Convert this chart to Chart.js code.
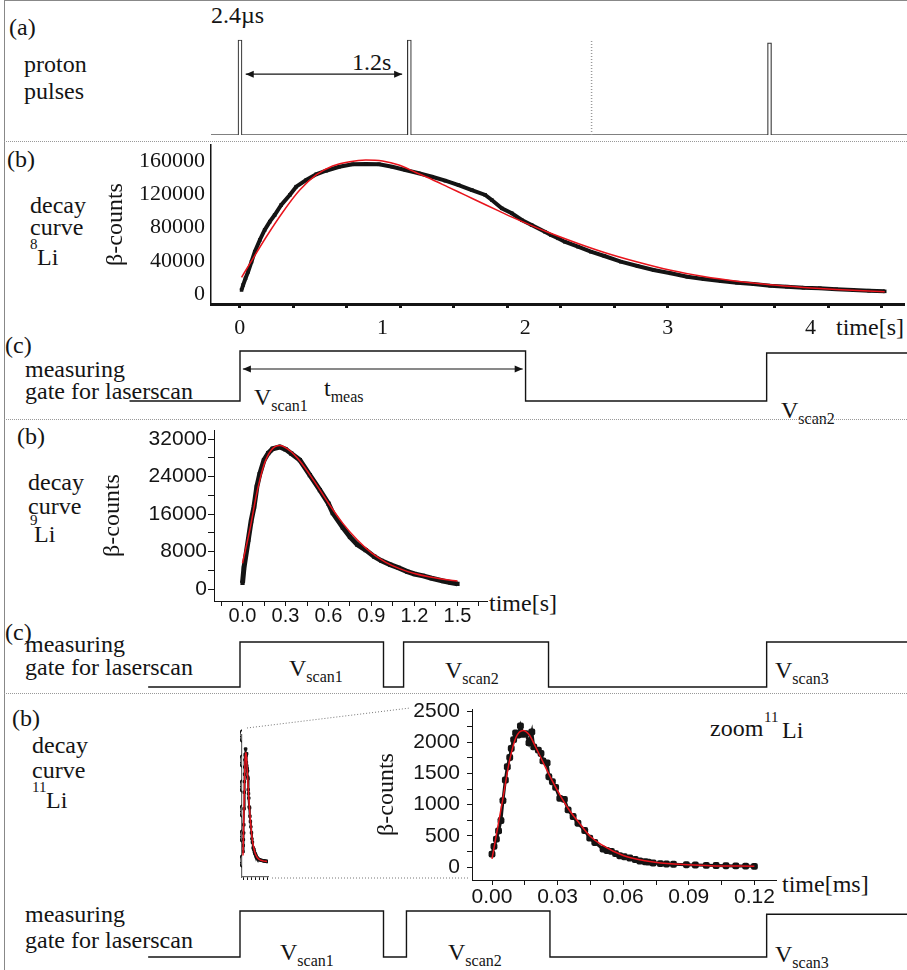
<!DOCTYPE html>
<html>
<head>
<meta charset="utf-8">
<title>Li decay curves and measuring gates</title>
<script src="https://cdn.jsdelivr.net/npm/chart.js@4.4.1/dist/chart.umd.min.js"></script>
<style>
  body { margin: 0; background: #fff; }
  #fig { position: relative; width: 907px; height: 970px; overflow: hidden; background: #fff;
         font-family: 'Liberation Serif', 'Times New Roman', serif; color: #141414; }
  #fig canvas, #fig svg { position: absolute; }
  .t { position: absolute; font-size: 24px; line-height: 1; white-space: nowrap; }
  .t sub { font-size: 16px; vertical-align: -6px; line-height: 0; }
  .iso { font-size: 15px; }
  .sep { position: absolute; left: 4px; width: 903px; height: 0; border-top: 1px dotted #999; }
  #inset { position: absolute; left: 240px; top: 700px; width: 60px; height: 200px; overflow: hidden; }
</style>
</head>
<body>
<div id="fig">
  <div style="position:absolute;left:4px;top:0;width:0;height:970px;border-left:1.5px solid #888"></div>
  <div style="position:absolute;left:4px;top:0;width:903px;height:0;border-top:1.5px solid #888"></div>

  <!-- (a) proton pulses -->
  <div class="t" style="left:9px;top:15px">(a)</div>
  <div class="t" style="left:211px;top:3px">2.4µs</div>
  <div class="t" style="left:24px;top:52px">proton</div>
  <div class="t" style="left:24px;top:79px">pulses</div>
  <div class="t" style="left:352px;top:50px">1.2s</div>
  <div class="sep" style="top:141px"></div>

  <!-- (b) 8Li -->
  <div class="t" style="left:7px;top:147px">(b)</div>
  <div class="t" style="left:30px;top:193px">decay</div>
  <div class="t" style="left:30px;top:215px">curve</div>
  <div class="t iso" style="left:30px;top:237px">8</div>
  <div class="t" style="left:37px;top:245px">Li</div>
  <div class="t" style="left:836px;top:315px">time[s]</div>

  <!-- (c) gate for 8Li -->
  <div class="t" style="left:5px;top:333px">(c)</div>
  <div class="t" style="left:25px;top:357px">measuring</div>
  <div class="t" style="left:25px;top:379px">gate for laserscan</div>
  <div class="t" style="left:254px;top:385px">V<sub>scan1</sub></div>
  <div class="t" style="left:324px;top:376px">t<sub>meas</sub></div>
  <div class="t" style="left:781px;top:398px">V<sub>scan2</sub></div>
  <div class="sep" style="top:419px"></div>

  <!-- (b) 9Li -->
  <div class="t" style="left:17px;top:424px">(b)</div>
  <div class="t" style="left:28px;top:470px">decay</div>
  <div class="t" style="left:28px;top:494px">curve</div>
  <div class="t iso" style="left:30px;top:513px">9</div>
  <div class="t" style="left:34px;top:522px">Li</div>
  <div class="t" style="left:489px;top:591px">time[s]</div>

  <!-- (c) gate for 9Li -->
  <div class="t" style="left:5px;top:620px">(c)</div>
  <div class="t" style="left:25px;top:632px">measuring</div>
  <div class="t" style="left:25px;top:655px">gate for laserscan</div>
  <div class="t" style="left:289px;top:656px">V<sub>scan1</sub></div>
  <div class="t" style="left:445px;top:658px">V<sub>scan2</sub></div>
  <div class="t" style="left:775px;top:658px">V<sub>scan3</sub></div>
  <div class="sep" style="top:693px"></div>

  <!-- (b) 11Li -->
  <div class="t" style="left:12px;top:706px">(b)</div>
  <div class="t" style="left:32px;top:733px">decay</div>
  <div class="t" style="left:32px;top:758px">curve</div>
  <div class="t iso" style="left:32px;top:780px">11</div>
  <div class="t" style="left:46px;top:788px">Li</div>
  <div class="t" style="left:710px;top:716px">zoom</div>
  <div class="t iso" style="left:764px;top:710px">11</div>
  <div class="t" style="left:782px;top:718px">Li</div>
  <div class="t" style="left:782px;top:872px">time[ms]</div>

  <!-- (c) gate for 11Li -->
  <div class="t" style="left:25px;top:902px">measuring</div>
  <div class="t" style="left:25px;top:928px">gate for laserscan</div>
  <div class="t" style="left:280px;top:940px">V<sub>scan1</sub></div>
  <div class="t" style="left:448px;top:940px">V<sub>scan2</sub></div>
  <div class="t" style="left:775px;top:942px">V<sub>scan3</sub></div>

  <svg width="907" height="970" style="left:0;top:0">
    <line x1="247" y1="728" x2="410" y2="708" stroke="#777" stroke-width="1" stroke-dasharray="1 2"/>
    <line x1="272" y1="878" x2="470" y2="878" stroke="#777" stroke-width="1" stroke-dasharray="1 2"/>
  </svg>
  <div id="inset"></div>
</div>

<script>
// ---------- data ----------
// (a) proton pulses [s] and the skipped one
const pulseTimes = [0, 1.18, 3.69];
const pulseHeights = [1, 1, 0.97];
const skippedPulse = [2.45];
const pulseGap = [0.04, 1.13];

// (b) 8Li decay curve
const li8T = [0.012, 0.023, 0.04, 0.058, 0.082, 0.105, 0.14, 0.174, 0.21, 0.244, 0.29, 0.35, 0.395, 0.465,
  0.535, 0.604, 0.697, 0.79, 0.883, 0.976, 1.068, 1.16, 1.254, 1.347, 1.44, 1.533, 1.626, 1.72, 1.766,
  1.836, 1.906, 1.976, 2.045, 2.138, 2.18, 2.23, 2.277, 2.37, 2.46, 2.555, 2.67, 2.787, 2.9, 3.02, 3.136,
  3.25, 3.37, 3.484, 3.6, 3.717, 3.833, 3.95, 4.065, 4.18, 4.3, 4.41, 4.52];
const li8N = [4800, 10800, 18900, 26800, 38900, 50900, 65000, 77000, 87000, 95000, 107100, 119100, 129100,
  137100, 144000, 148300, 153100, 156000, 156400, 156000, 153100, 149200, 145200, 141100, 136300, 131100,
  125100, 119100, 113100, 103100, 97100, 89000, 83000, 74900, 71000, 67000, 62900, 56900, 50900, 45700,
  38900, 33700, 28900, 24900, 20800, 18000, 15600, 13600, 12000, 10000, 8800, 7600, 6900, 5700, 4800, 4000, 3200];
const li8FitT = [0.012, 0.07, 0.186, 0.303, 0.42, 0.535, 0.65, 0.77, 0.883, 1.0, 1.115, 1.23, 1.347, 1.46,
  1.58, 1.696, 1.81, 1.928, 2.045, 2.16, 2.37, 2.555, 2.787, 3.02, 3.25, 3.484, 3.717, 3.95, 4.18, 4.52];
const li8FitN = [20100, 36500, 68900, 99000, 125100, 143200, 154000, 159200, 161200, 160000, 155200, 146500,
  137800, 128600, 118900, 109500, 100300, 91000, 82300, 74300, 60800, 50000, 38500, 28500, 21000, 15300,
  11000, 7900, 5500, 2800];
const li8XMinor = [0, 0.375, 0.75, 1.125, 1.5, 1.875, 2.25, 2.625, 3, 3.375, 3.75, 4.125, 4.5];
const li8XLabels = [0, 1, 2, 3, 4];
const li8YLabels = [0, 40000, 80000, 120000, 160000];

// (c) gate for 8Li: edges [s] and levels
const gate8Edges = [-0.77, 0, 1.99, 3.67, 4.65];
const gate8Levels = [0, 1, 0, 0.96, 0.96];
const tMeas = [0.02, 1.97];

// (b) 9Li decay curve
const li9T = [0.0, 0.01, 0.04, 0.06, 0.08, 0.10, 0.12, 0.15, 0.18, 0.21, 0.26, 0.30, 0.34, 0.40, 0.47, 0.54,
  0.60, 0.63, 0.70, 0.75, 0.80, 0.86, 0.92, 0.97, 1.03, 1.09, 1.15, 1.20, 1.26, 1.32, 1.40, 1.45, 1.50];
const li9N = [1300, 4500, 10500, 14500, 17500, 21800, 24500, 27500, 29000, 29900, 30300, 29800, 28900, 27500,
  24300, 21100, 18200, 16200, 13100, 11100, 9500, 8300, 6900, 6000, 5200, 4500, 3700, 3200, 2800, 2300,
  1700, 1400, 1100];
const li9FitT = [0.0, 0.05, 0.1, 0.15, 0.2, 0.26, 0.33, 0.4, 0.5, 0.6, 0.7, 0.8, 0.9, 1.0, 1.1, 1.2, 1.3, 1.4, 1.5];
const li9FitN = [5500, 12500, 20500, 26500, 29600, 30600, 29500, 27300, 23000, 18300, 14000, 10500, 7700,
  5700, 4300, 3300, 2600, 2100, 1700];
const li9XTicks = [-0.15, 0, 0.15, 0.3, 0.45, 0.6, 0.75, 0.9, 1.05, 1.2, 1.35, 1.5, 1.65];
const li9XLabels = [0, 0.3, 0.6, 0.9, 1.2, 1.5];
const li9YTicks = [0, 4000, 8000, 12000, 16000, 20000, 24000, 28000, 32000];
const li9YLabels = [0, 8000, 16000, 24000, 32000];

// (c) gate for 9Li
const gate9Edges = [-0.64, 0, 1.0, 1.14, 2.15, 3.67, 4.65];
const gate9Levels = [0, 1, 0, 1, 0, 1, 1];

// (b) 11Li decay curve [ms]
const li11T = [0, 0.0009, 0.002, 0.003, 0.0041, 0.005, 0.0061, 0.007, 0.0081, 0.0088, 0.0099, 0.0108, 0.012,
  0.013, 0.0142, 0.0154, 0.0169, 0.0182, 0.0191, 0.0212, 0.0224, 0.0233, 0.0252, 0.026, 0.0276, 0.0291,
  0.031, 0.0331, 0.0348, 0.0371, 0.0393, 0.0424, 0.0447, 0.047, 0.0508, 0.0525, 0.0546, 0.0565, 0.0584,
  0.0605, 0.063, 0.0655, 0.0676, 0.07, 0.0715, 0.0737, 0.077, 0.0798, 0.083, 0.0889, 0.093, 0.098,
  0.1025, 0.107, 0.1115, 0.116, 0.12];
const li11N = [207, 330, 447, 580, 745, 1064, 1394, 1607, 1756, 1900, 2043, 2150, 2117, 2261, 2128, 2139,
  1990, 2165, 1926, 1873, 1820, 1702, 1670, 1447, 1367, 1277, 1101, 1085, 915, 809, 702, 585, 463, 394,
  287, 265, 250, 215, 181, 165, 144, 120, 96, 85, 78, 64, 55, 48, 44, 37, 32, 27, 24, 21, 18, 15, 11];
const li11FitT = [0, 0.005, 0.008, 0.011, 0.0142, 0.017, 0.02, 0.025, 0.03, 0.035, 0.04, 0.045, 0.05, 0.06,
  0.07, 0.08, 0.1, 0.12];
const li11FitN = [130, 1100, 1700, 2080, 2190, 2120, 1920, 1560, 1220, 930, 700, 490, 360, 185, 100, 55, 22, 12];
const li11XTicks = [0, 0.015, 0.03, 0.045, 0.06, 0.075, 0.09, 0.105, 0.12];
const li11XLabels = [0, 0.03, 0.06, 0.09, 0.12];
const li11YTicks = [0, 250, 500, 750, 1000, 1250, 1500, 1750, 2000, 2250, 2500];
const li11YLabels = [0, 500, 1000, 1500, 2000, 2500];
const insetXTicks = [0, 0.02, 0.04, 0.06, 0.08, 0.1, 0.12];

// (c) gate for 11Li
const gate11Edges = [-0.64, 0, 1.0, 1.16, 2.16, 3.67, 4.65];
const gate11Levels = [0, 1, 0, 1, 0, 0.93, 0.93];

// ---------- helpers ----------
const INK = '#141414', RED = '#e8141c';
const SERIF = "'Liberation Serif', 'Times New Roman', serif";
const SANS = "'Liberation Sans', Arial, sans-serif";
const fig = document.getElementById('fig');

// time line shared by panels (a) and (c): 0 s at x = 240 px, 143.5 px per s
const tAt = px => (px - 240) / 143.5;
const arrowLevel = 0.64;

function addCanvas(left, top, w, h, parent) {
  const c = document.createElement('canvas');
  c.width = w; c.height = h;
  c.style.left = left + 'px'; c.style.top = top + 'px';
  (parent || fig).appendChild(c);
  return c;
}
const pairs = (xs, ys) => xs.map((x, i) => ({ x, y: ys[i] }));
const only = (list, fmt) => v => list.some(u => Math.abs(u - v) < 1e-9) ? fmt(v) : '';
const plain = v => String(v);
const fixedTicks = list => s => { s.ticks = list.map(value => ({ value })); };
const fitY = w => s => { s.width = w; s.paddingTop = 0; s.paddingBottom = 0; };
const fitX = h => s => { s.height = h; s.paddingLeft = 0; s.paddingRight = 0; };
const base = pad => ({
  responsive: false, animation: false, events: [],
  layout: { padding: { left: 0, top: pad.t, right: pad.r, bottom: 0 } },
  plugins: { legend: { display: false }, tooltip: { enabled: false } }
});
// canvas sized so the chart area lands exactly on `area`
function plotCanvas(area, pad, parent, ox = 0, oy = 0) {
  return addCanvas(area.l - pad.l - ox, area.t - pad.t - oy,
    area.r - area.l + pad.l + pad.r, area.b - area.t + pad.t + pad.b, parent);
}
const fitLine = (xs, ys) => ({ data: pairs(xs, ys), borderColor: RED, borderWidth: 1.5, pointRadius: 0,
  cubicInterpolationMode: 'monotone', order: 0 });

const arrowHeads = {
  id: 'arrowHeads',
  afterDatasetsDraw(chart) {
    const ctx = chart.ctx;
    chart.data.datasets.forEach((ds, i) => {
      if (!ds.arrows) return;
      const p = chart.getDatasetMeta(i).data;
      [[p[0], p[1]], [p[p.length - 1], p[p.length - 2]]].forEach(([tip, from]) => {
        const a = Math.atan2(tip.y - from.y, tip.x - from.x);
        ctx.save();
        ctx.fillStyle = INK;
        ctx.beginPath();
        ctx.moveTo(tip.x, tip.y);
        ctx.lineTo(tip.x - 8 * Math.cos(a) + 3.5 * Math.sin(a), tip.y - 8 * Math.sin(a) - 3.5 * Math.cos(a));
        ctx.lineTo(tip.x - 8 * Math.cos(a) - 3.5 * Math.sin(a), tip.y - 8 * Math.sin(a) + 3.5 * Math.cos(a));
        ctx.closePath();
        ctx.fill();
        ctx.restore();
      });
    });
  }
};

// ---------- (a) proton pulses ----------
new Chart(addCanvas(211, 30, 696, 105), {
  type: 'bar',
  data: { datasets: [
    { data: pairs(pulseTimes, pulseHeights), backgroundColor: '#fff', borderColor: '#333', borderWidth: 1.2,
      barThickness: 4, borderSkipped: 'start' },
    { type: 'line', data: pairs([skippedPulse[0], skippedPulse[0]], [0, 1]), borderColor: '#999',
      borderWidth: 1.5, borderDash: [1, 2], pointRadius: 0 },
    { type: 'line', data: pairs(pulseGap, [arrowLevel, arrowLevel]), borderColor: INK, borderWidth: 1.2,
      pointRadius: 0, arrows: true }
  ]},
  options: { ...base({ t: 8, r: 0 }), scales: {
    x: { type: 'linear', offset: false, min: tAt(211), max: tAt(907), afterFit: fitX(0),
         grid: { drawOnChartArea: false, drawTicks: false }, border: { color: '#808080', width: 2 },
         ticks: { display: false } },
    y: { display: false, min: 0, max: 97 / 95 }
  } },
  plugins: [arrowHeads]
});

// ---------- gates ----------
function gateChart(high, low, edges, levels, arrow) {
  const m = 6, span = low - high;
  const datasets = [{ data: pairs(edges, levels), stepped: true, borderColor: INK, borderWidth: 1.4,
    pointRadius: 0, clip: false }];
  if (arrow) datasets.push({ data: pairs(arrow, [arrowLevel, arrowLevel]), borderColor: INK,
    borderWidth: 1.2, pointRadius: 0, arrows: true, clip: false });
  new Chart(addCanvas(0, high - m, 907, span + 2 * m), {
    type: 'line', data: { datasets },
    options: { ...base({ t: 0, r: 0 }), scales: {
      x: { type: 'linear', display: false, min: tAt(0), max: tAt(907) },
      y: { display: false, min: -m / span, max: 1 + m / span }
    } },
    plugins: [arrowHeads]
  });
}
gateChart(351, 401, gate8Edges, gate8Levels, tMeas);
gateChart(642, 687, gate9Edges, gate9Levels);
gateChart(911, 957, gate11Edges, gate11Levels);

// ---------- (b) 8Li ----------
{
  const area = { l: 211, t: 145, r: 907, b: 304 };
  const pad = { l: 110, t: 4, r: 0, b: 40 };
  const xr = { min: tAt(211), max: tAt(907) };
  new Chart(plotCanvas(area, pad), {
    type: 'line',
    data: { datasets: [
      fitLine(li8FitT, li8FitN),
      { data: pairs(li8T, li8N), borderColor: INK, backgroundColor: INK, borderWidth: 4, pointStyle: 'rect',
        pointRadius: 2.5, pointBorderWidth: 0, order: 1 }
    ]},
    options: { ...base(pad), scales: {
      x: { type: 'linear', ...xr, weight: 0, afterFit: fitX(0), afterBuildTicks: fixedTicks(li8XMinor),
           grid: { drawOnChartArea: false, tickLength: 4, lineWidth: 3, color: INK },
           border: { color: INK, width: 3 }, ticks: { display: false } },
      xl: { type: 'linear', position: 'bottom', ...xr, weight: 1, afterFit: fitX(pad.b),
            afterBuildTicks: fixedTicks(li8XLabels),
            grid: { drawOnChartArea: false, drawTicks: false }, border: { display: false },
            ticks: { color: INK, font: { family: SERIF, size: 22, lineHeight: 1 }, padding: 13,
                     autoSkip: false, maxRotation: 0, callback: plain } },
      y: { min: -12030, max: 179250, afterFit: fitY(pad.l), afterBuildTicks: fixedTicks(li8YLabels),
           grid: { drawOnChartArea: false, drawTicks: false }, border: { color: INK, width: 1.5 },
           ticks: { color: INK, font: { family: SERIF, size: 22 }, padding: 6, autoSkip: false, callback: plain },
           title: { display: true, text: 'β-counts', color: INK, font: { family: SERIF, size: 24 }, padding: 0 } }
    } }
  });
}

// ---------- (b) 9Li ----------
{
  const area = { l: 214, t: 430, r: 487, b: 601 };
  const pad = { l: 116, t: 12, r: 4, b: 28 };
  new Chart(plotCanvas(area, pad), {
    type: 'line',
    data: { datasets: [
      fitLine(li9FitT, li9FitN),
      { data: pairs(li9T, li9N), borderColor: INK, backgroundColor: INK, borderWidth: 5, pointStyle: 'rect',
        pointRadius: 3, pointBorderWidth: 0, order: 1 }
    ]},
    options: { ...base(pad), scales: {
      x: { type: 'linear', min: -0.199, max: 1.706, afterFit: fitX(pad.b), afterBuildTicks: fixedTicks(li9XTicks),
           grid: { drawOnChartArea: false, tickLength: 5, color: INK }, border: { color: INK, width: 1 },
           ticks: { color: INK, font: { family: SANS, size: 20, lineHeight: 1 }, padding: 0, autoSkip: false,
                    maxRotation: 0, callback: only(li9XLabels, v => v.toFixed(1)) } },
      y: { min: -2560, max: 33920, afterFit: fitY(pad.l), afterBuildTicks: fixedTicks(li9YTicks),
           grid: { drawOnChartArea: false, tickLength: 6, color: INK }, border: { color: INK, width: 1 },
           ticks: { color: INK, font: { family: SANS, size: 21 }, padding: 1, autoSkip: false,
                    callback: only(li9YLabels, plain) },
           title: { display: true, text: 'β-counts', color: INK, font: { family: SERIF, size: 24 }, padding: 0 } }
    } }
  });
}

// ---------- (b) 11Li zoom ----------
{
  const area = { l: 472, t: 709, r: 776, b: 880 };
  const pad = { l: 100, t: 8, r: 4, b: 30 };
  new Chart(plotCanvas(area, pad), {
    type: 'line',
    data: { datasets: [
      fitLine(li11FitT, li11FitN),
      { data: pairs(li11T, li11N), borderColor: INK, backgroundColor: INK, borderWidth: 3, pointStyle: 'rectRounded',
        pointRadius: 4, pointBorderWidth: 0, order: 1 }
    ]},
    options: { ...base(pad), scales: {
      x: { type: 'linear', min: -0.00915, max: 0.12988, afterFit: fitX(pad.b), afterBuildTicks: fixedTicks(li11XTicks),
           grid: { drawOnChartArea: false, tickLength: 5, color: INK }, border: { color: INK, width: 1 },
           ticks: { color: INK, font: { family: SANS, size: 21, lineHeight: 1 }, padding: 2, autoSkip: false,
                    maxRotation: 0, callback: only(li11XLabels, v => v.toFixed(2)) } },
      y: { min: -208, max: 2533, afterFit: fitY(pad.l), afterBuildTicks: fixedTicks(li11YTicks),
           grid: { drawOnChartArea: false, tickLength: 5, color: INK }, border: { color: INK, width: 1 },
           ticks: { color: INK, font: { family: SANS, size: 21 }, padding: 7, autoSkip: false,
                    callback: only(li11YLabels, plain) },
           title: { display: true, text: 'β-counts', color: INK, font: { family: SERIF, size: 24 }, padding: 0 } }
    } }
  });
}

// ---------- (b) 11Li full view (small, labels clipped) ----------
{
  const area = { l: 242, t: 735, r: 268, b: 877 };
  const pad = { l: 50, t: 6, r: 4, b: 10 };
  new Chart(plotCanvas(area, pad, document.getElementById('inset'), 240, 700), {
    type: 'line',
    data: { datasets: [
      fitLine(li11FitT, li11FitN),
      { data: pairs(li11T, li11N), borderColor: INK, backgroundColor: INK, borderWidth: 2, pointStyle: 'rectRounded',
        pointRadius: 2, pointBorderWidth: 0, order: 1 }
    ]},
    options: { ...base(pad), scales: {
      x: { type: 'linear', min: -0.005, max: 0.125, afterFit: fitX(pad.b), afterBuildTicks: fixedTicks(insetXTicks),
           grid: { drawOnChartArea: false, tickLength: 3, color: INK }, border: { color: '#666', width: 1.2 },
           ticks: { display: false } },
      y: { min: -300, max: 2540, afterFit: fitY(pad.l), afterBuildTicks: fixedTicks(li11YLabels),
           grid: { drawOnChartArea: false, tickLength: 2, color: INK }, border: { color: '#666', width: 1.2 },
           ticks: { color: INK, font: { family: SANS, size: 20 }, padding: -9, autoSkip: false, callback: plain } }
    } }
  });
}
</script>
</body>
</html>
